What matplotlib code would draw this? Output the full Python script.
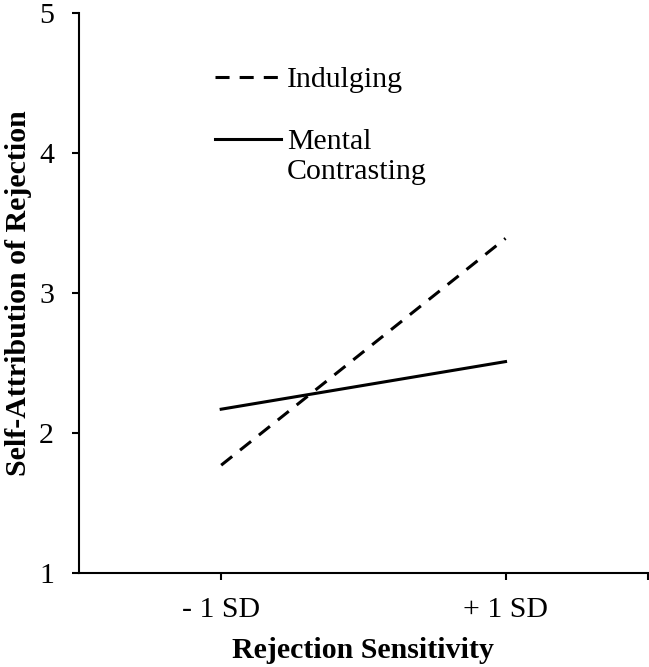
import matplotlib
matplotlib.use("Agg")
import matplotlib.pyplot as plt
from matplotlib.legend_handler import HandlerLine2D

# Data
categories = ["- 1 SD", "+ 1 SD"]
indulging = [1.77, 3.39]
mental_contrasting = [2.17, 2.51]
series_labels = ["Indulging", "Mental\nContrasting"]

plt.rcParams['font.family'] = ['Liberation Serif', 'DejaVu Serif']
FS = 21.5


class FirstLineHandler(HandlerLine2D):
    # put the legend line next to the first text line (Excel style)
    def __init__(self, shift, **kw):
        super().__init__(**kw)
        self.shift = shift

    def create_artists(self, legend, orig_handle, xdescent, ydescent,
                       width, height, fontsize, trans):
        arts = super().create_artists(legend, orig_handle, xdescent, ydescent,
                                      width, height, fontsize, trans)
        for a in arts:
            a.set_ydata([y + self.shift for y in a.get_ydata()])
        return arts


fig = plt.figure(figsize=(6.49, 6.67), dpi=100)
ax = fig.add_axes([79 / 649, 1 - 573 / 667, 1 - 79 / 649 - 0.002, (573 - 13) / 667])

x = [0.5, 1.5]
l1, = ax.plot(x, indulging, color='black', lw=2.2, linestyle=(0, (4.6, 3.3)), label=series_labels[0])
l2, = ax.plot(x, mental_contrasting, color='black', lw=2.2, label=series_labels[1])

ax.set_xlim(0, 2)
ax.set_ylim(1, 5)
ax.set_yticks([1, 2, 3, 4, 5])
ax.set_xticks(x)
ax.set_xticklabels(categories)
ax.set_xticks([2], minor=True)

for side in ['top', 'right']:
    ax.spines[side].set_visible(False)
for side in ['left', 'bottom']:
    ax.spines[side].set_linewidth(1.5)

ax.tick_params(axis='both', which='both', direction='out', length=5, width=1.5, labelsize=FS)
ax.tick_params(axis='y', pad=13)
ax.tick_params(axis='x', pad=12)

ax.set_xlabel("Rejection Sensitivity", fontsize=FS, fontweight='bold', labelpad=10)
ax.set_ylabel("Self-Attribution of Rejection", fontsize=FS, fontweight='bold', labelpad=5)

leg = ax.legend(loc='upper left', bbox_to_anchor=(0.24, 0.905), frameon=False, fontsize=FS,
                handlelength=2.2, handletextpad=0.2, labelspacing=1.2,
                borderaxespad=0, borderpad=0,
                handler_map={l2: FirstLineHandler(shift=0.6 * FS)})
for t in leg.get_texts():
    t.set_linespacing(1.2)

fig.savefig("out.png", dpi=100)
